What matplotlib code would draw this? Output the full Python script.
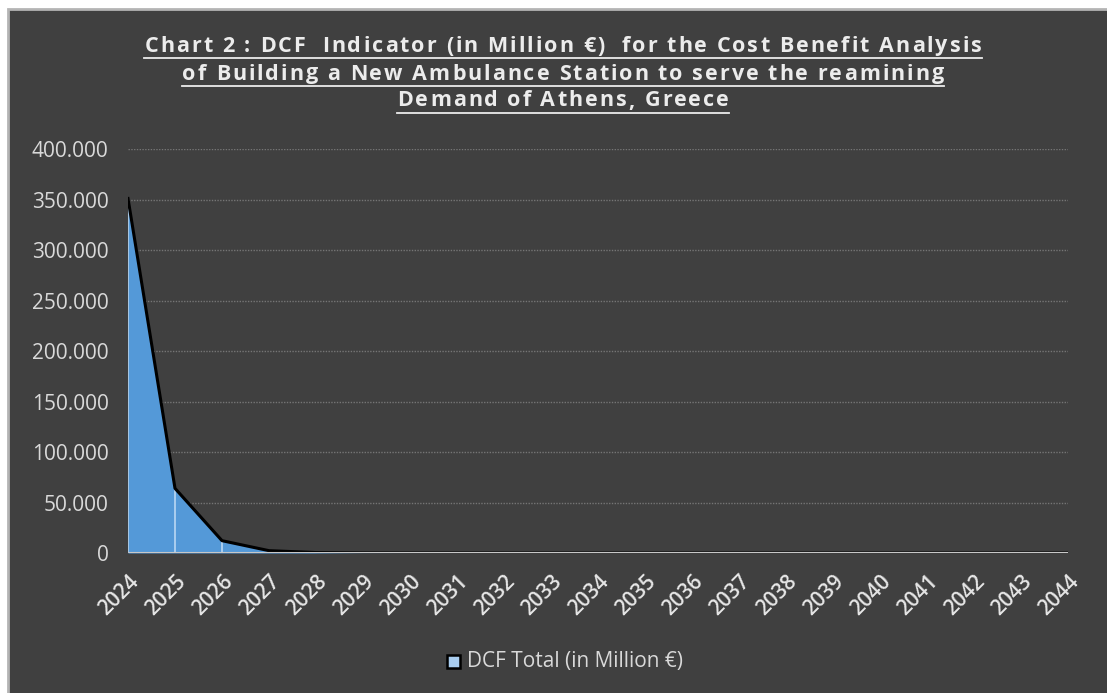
#! /usr/bin/env python3

import matplotlib
matplotlib.use('Agg')
import matplotlib.pyplot as plt
from matplotlib.patches import Rectangle
from matplotlib.lines import Line2D
from matplotlib.font_manager import FontProperties

# data
years = list(range(2024, 2045))
dcf_total = [351, 64, 12.2, 2.3, 0.45, 0.08, 0.015, 0.003, 0, 0, 0,
             0, 0, 0, 0, 0, 0, 0, 0, 0, 0]
y_ticks = [0, 50, 100, 150, 200, 250, 300, 350, 400]
y_tick_labels = ['0', '50.000', '100.000', '150.000', '200.000',
                 '250.000', '300.000', '350.000', '400.000']
title_lines = ['Chart 2 : DCF  Indicator (in Million \u20ac)  for the Cost Benefit Analysis',
               'of Building a New Ambulance Station to serve the reamining',
               'Demand of Athens, Greece']
legend_label = 'DCF Total (in Million \u20ac)'

BG = '#404040'
FILL = '#5499d8'
TXT = '#d9d9d9'

W, H = 1107, 693


def spaced_text(fig, renderer, s, cx, cy, prop, tracking, color):
    # matplotlib has no letter spacing, so lay the characters out one by one
    widths = [renderer.get_text_width_height_descent(c, prop, ismath=False)[0] for c in s]
    total = sum(widths) + tracking * (len(s) - 1)
    x = cx - total / 2
    for c, w in zip(s, widths):
        if c != ' ':
            fig.text(x / W, 1 - cy / H, c, ha='left', va='center',
                     fontproperties=prop, color=color)
        x += w + tracking
    return cx - total / 2, cx + total / 2


def main():
    fig = plt.figure(figsize=(W / 100, H / 100), dpi=100, facecolor='white')
    # dark chart area with thin light frame (top/left)
    fig.patches.append(Rectangle((8 / W, -0.05), 1.05, 1.05 - 9 / H,
                                 transform=fig.transFigure, facecolor=BG,
                                 edgecolor='#b4b4b4', linewidth=2, zorder=-1))

    ax = fig.add_axes([128 / W, 1 - 553 / H, (1068 - 128) / W, (553 - 149) / H])
    ax.set_zorder(2)
    ax.patch.set_alpha(0)

    ax.fill_between(years, dcf_total, 0, color=FILL, linewidth=0, zorder=2)
    # light drop lines inside the area
    ax.vlines(years[:4], 0, dcf_total[:4], color='#b9d7f3', linewidth=1.2, zorder=3)
    ax.plot(years, dcf_total, color='black', linewidth=2.2, zorder=4,
            solid_joinstyle='round')
    ax.plot([years[0], years[-1]], [0, 0], color='#c8c8c8', linewidth=2.2, zorder=5,
            solid_capstyle='butt')

    ax.set_xlim(years[0], years[-1])
    ax.set_ylim(0, 400)
    ax.set_yticks(y_ticks)
    ax.set_yticklabels(y_tick_labels, fontsize=15, color=TXT, family='Open Sans')
    ax.set_xticks(years)
    ax.set_xticklabels([str(y) for y in years], rotation=45, ha='right',
                       rotation_mode='anchor', fontsize=15, color='#e6e6e6',
                       family='Open Sans', fontweight='semibold')
    ax.tick_params(axis='both', length=0)
    ax.tick_params(axis='y', pad=14)
    ax.tick_params(axis='x', pad=13)
    for s in ax.spines.values():
        s.set_visible(False)
    for yv in y_ticks[1:]:
        ax.plot([years[0], years[-1]], [yv, yv], color='#757575', linewidth=1,
                linestyle=(0, (1, 1)), zorder=1)

    # title, letter spaced and underlined
    renderer = fig.canvas.get_renderer()
    prop = FontProperties(family='Open Sans', weight='bold', size=15.5)
    title_y = [46, 74, 101]
    for line, ty in zip(title_lines, title_y):
        x0, x1 = spaced_text(fig, renderer, line, 563, ty, prop, 2.0, '#ececec')
        uy = 1 - (ty + 12) / H
        fig.lines.append(Line2D([x0 / W, x1 / W], [uy, uy],
                                transform=fig.transFigure, color='#ececec',
                                linewidth=1.3))

    # legend
    fig.patches.append(Rectangle((447 / W, 1 - 668 / H), 13 / W, 13 / H,
                                 transform=fig.transFigure, facecolor='#a9cdf0',
                                 edgecolor='black', linewidth=1.8, zorder=3))
    fig.text(467 / W, 1 - 662 / H, legend_label, ha='left', va='center',
             fontsize=15, color=TXT, family='Open Sans')

    plt.savefig('out.png', dpi=100, facecolor=fig.get_facecolor())
    print('saved chart to file out.png')


if __name__ == '__main__':
    main()
